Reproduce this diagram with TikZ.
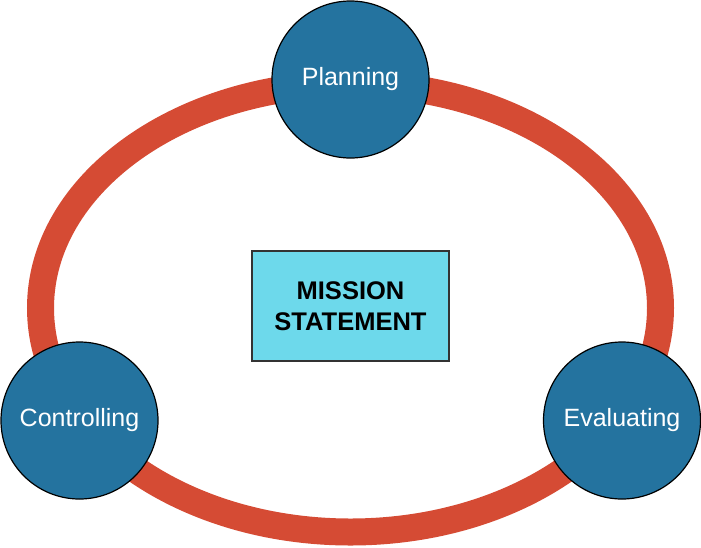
\documentclass[tikz,border=0pt]{standalone}
\usepackage{fontspec}
\setmainfont{Liberation Sans}
\definecolor{ringred}{HTML}{D54B34}
\definecolor{stageblue}{HTML}{24739F}
\definecolor{boxcyan}{HTML}{6DD9EB}
\tikzset{
    stage/.style={circle, draw=black, line width=1.2pt, fill=stageblue,
        minimum size=157pt, inner sep=0pt, text=white, font=\fontsize{25}{29}\selectfont},
    missionbox/.style={rectangle, draw=black!80, line width=1.2pt, fill=boxcyan,
        minimum width=197pt, minimum height=110pt, align=center,
        font=\fontsize{25.5}{31}\selectfont\bfseries}
}
\begin{document}
\begin{tikzpicture}[x=1pt, y=-1pt]
    \useasboundingbox (0,0) rectangle (701,547);

    % the cycle
    \draw[ringred, line width=27pt] (350.5,308) ellipse [x radius=310, y radius=224];

    \node[missionbox] (mission) at (350.5,306) {MISSION\\STATEMENT};

    \node[stage] (planning) at (350.5,79.5) {Planning};
    \node[stage] (controlling) at (79.5,420.5) {Controlling};
    \node[stage] (evaluating) at (622,420.5) {Evaluating};
\end{tikzpicture}
\end{document}
